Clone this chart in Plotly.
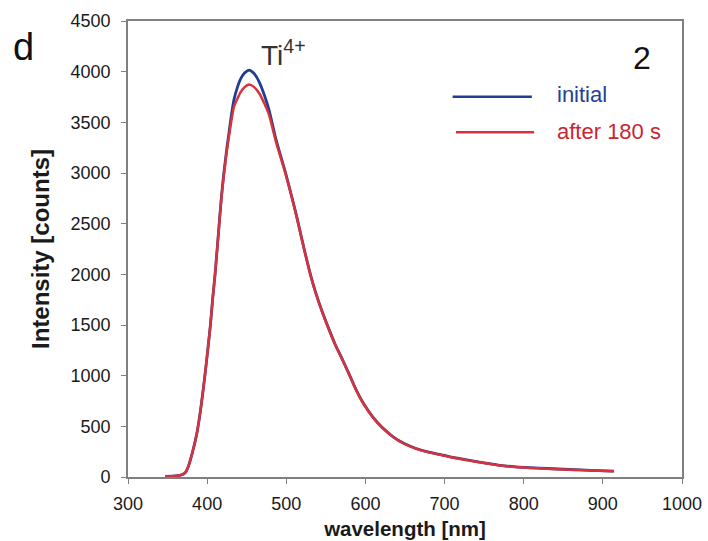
import plotly.graph_objects as go

# wavelength [nm]
wl = [347, 360, 366, 372, 376, 381, 387, 392, 397, 401, 404, 407, 410, 415, 418,
      421, 425, 428, 431, 434, 438, 442, 447, 453, 459, 466, 472, 478, 487, 499,
      512, 522, 531, 537, 545, 554, 562, 571, 580, 588, 598, 609, 621, 635, 649,
      664, 680, 698, 714, 730, 750, 770, 790, 807, 830, 857, 885, 914]

initial = [5, 10, 17, 40, 99, 230, 430, 680, 990, 1270, 1490, 1760, 2000, 2477, 2760,
           2990, 3250, 3420, 3590, 3727, 3840, 3924, 3985, 4016, 3985, 3895, 3775, 3628, 3332, 3003,
           2609, 2270, 1985, 1825, 1640, 1457, 1305, 1159, 1005, 865, 720, 596, 490, 397, 330,
           281, 245, 215, 188, 166, 140, 115, 100, 92, 84, 74, 66, 58]

after180 = [5, 10, 17, 40, 99, 230, 430, 680, 990, 1270, 1490, 1760, 2000, 2470, 2750,
            2975, 3225, 3385, 3535, 3657, 3730, 3794, 3845, 3873, 3850, 3785, 3690, 3578, 3307, 2993,
            2602, 2264, 1980, 1820, 1636, 1453, 1301, 1155, 1001, 861, 717, 593, 487, 395, 328,
            279, 243, 213, 186, 164, 138, 113, 98, 90, 82, 72, 64, 56]

x_ticks = [300, 400, 500, 600, 700, 800, 900, 1000]
y_ticks = [0, 500, 1000, 1500, 2000, 2500, 3000, 3500, 4000, 4500]

blue = "#1f3e8f"
red = "#d8323c"

fig = go.Figure()
fig.add_trace(go.Scatter(x=wl, y=initial, mode="lines", name="initial",
                         line=dict(color=blue, width=2.8, shape="spline", smoothing=0.7),
                         showlegend=False))
fig.add_trace(go.Scatter(x=wl, y=after180, mode="lines", name="after 180 s",
                         line=dict(color=red, width=2.5, shape="spline", smoothing=0.7),
                         showlegend=False))

font = "Liberation Sans, Arial, sans-serif"
axis_common = dict(showline=True, linecolor="#808080", linewidth=1.8, mirror=True,
                   ticks="outside", ticklen=5, tickcolor="#808080", tickwidth=1,
                   showgrid=False, zeroline=False, automargin=False,
                   tickfont=dict(family=font, size=18, color="#1a1a1a"))

fig.update_layout(
    width=708, height=541,
    margin=dict(l=128, r=26, t=21, b=64),
    paper_bgcolor="white", plot_bgcolor="white",
    xaxis=dict(range=[300, 1000], tickvals=x_ticks, ticklabelstandoff=4,
               title=dict(text="<b>wavelength [nm]</b>", font=dict(family=font, size=20.5, color="#1a1a1a"),
                          standoff=9),
               **axis_common),
    yaxis=dict(range=[0, 4500], tickvals=y_ticks, ticklabelstandoff=7,
               title=dict(text="<b>Intensity [counts]</b>", font=dict(family=font, size=24, color="#1a1a1a"),
                          standoff=14),
               **axis_common),
    showlegend=False,
)

# legend drawn as in the original figure
fig.add_shape(type="line", xref="paper", yref="paper", x0=0.586, x1=0.729, y0=0.834, y1=0.834,
              line=dict(color=blue, width=2.5))
fig.add_shape(type="line", xref="paper", yref="paper", x0=0.592, x1=0.733, y0=0.756, y1=0.756,
              line=dict(color=red, width=2.5))
fig.add_annotation(xref="paper", yref="paper", x=0.771, y=0.838, text="initial", showarrow=False,
                   xanchor="left", yanchor="middle", font=dict(family=font, size=22, color="#24409a"))
fig.add_annotation(xref="paper", yref="paper", x=0.771, y=0.758, text="after 180 s", showarrow=False,
                   xanchor="left", yanchor="middle", font=dict(family=font, size=22, color="#c8262e"))

fig.add_annotation(x=497, y=4180, text="Ti<sup>4+</sup>", showarrow=False,
                   xanchor="center", yanchor="middle", font=dict(family=font, size=28, color="#333333"))
fig.add_annotation(xref="paper", yref="paper", x=0.928, y=0.919, text="2", showarrow=False,
                   xanchor="center", yanchor="middle", font=dict(family=font, size=32, color="#111111"))
fig.add_annotation(xref="paper", yref="paper", x=-0.188, y=0.943, text="d", showarrow=False,
                   xanchor="center", yanchor="middle", font=dict(family=font, size=38, color="#111111"))

fig.write_html("out.html")
